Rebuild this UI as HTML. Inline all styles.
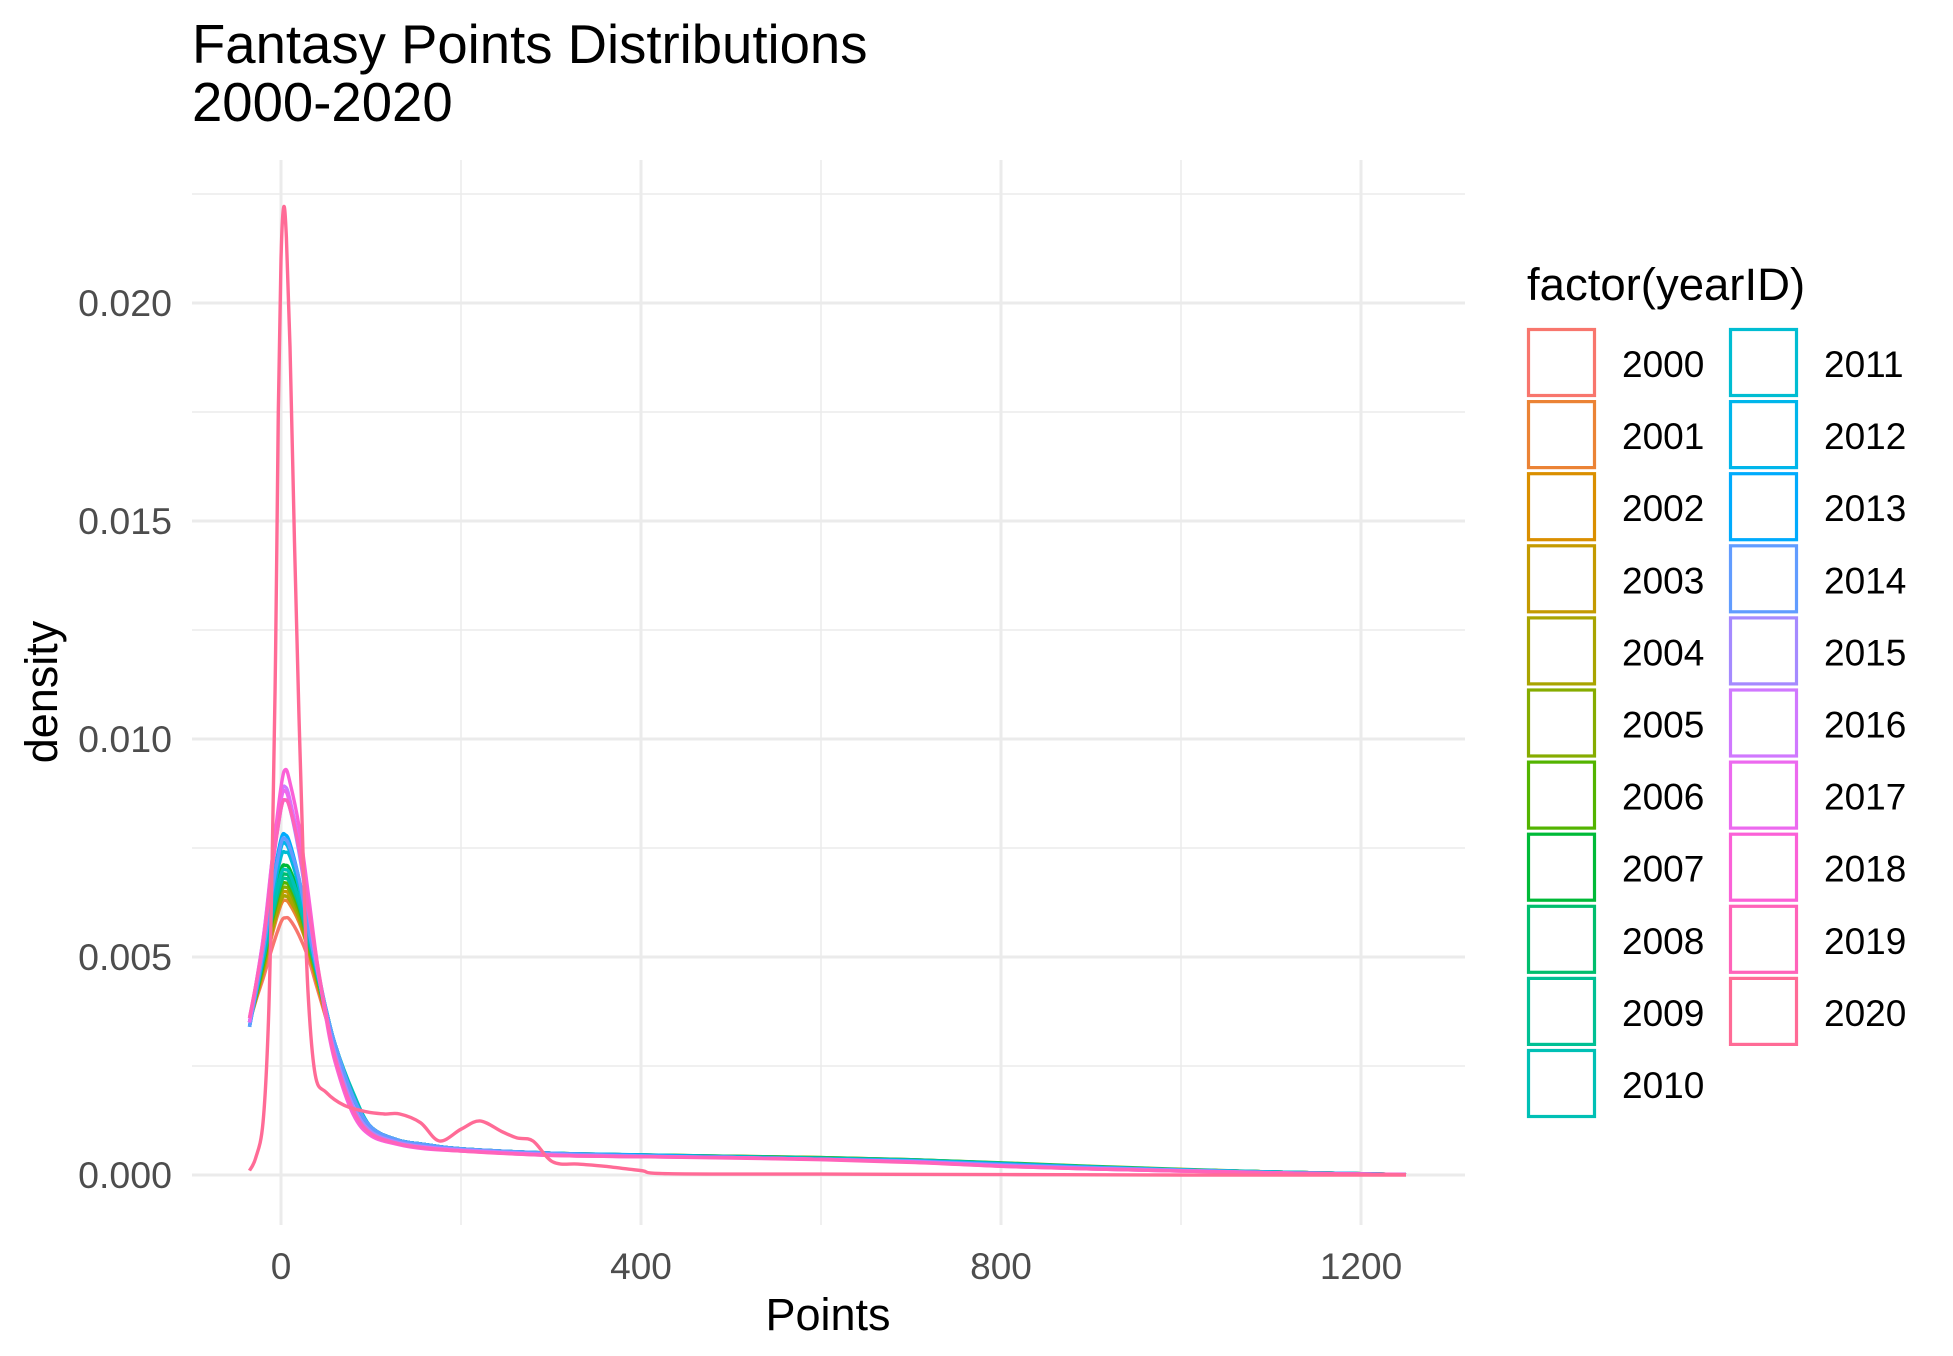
<!DOCTYPE html>
<html><head><meta charset="utf-8"><style>
html,body{margin:0;padding:0;background:#fff;}
svg{display:block;font-family:"Liberation Sans",Arial,sans-serif;}
</style></head><body>
<svg id="chart" width="1953" height="1356" viewBox="0 0 1953 1356" xmlns="http://www.w3.org/2000/svg">
<text x="192" y="63" font-size="54.5" fill="#000">Fantasy Points Distributions</text>
<text x="192" y="121" font-size="54.5" fill="#000">2000-2020</text>
<g id="grid"></g>
<g id="series"></g>
<g id="axes"></g>
<text x="828" y="1330" font-size="45" text-anchor="middle" fill="#000">Points</text>
<text transform="translate(57,692) rotate(-90)" font-size="45" text-anchor="middle" fill="#000">density</text>
<g id="legend">
<text x="1527" y="300" font-size="45.5" fill="#000">factor(yearID)</text>
</g>
</svg>
<script>
const years = [2000,2001,2002,2003,2004,2005,2006,2007,2008,2009,2010,2011,2012,2013,2014,2015,2016,2017,2018,2019,2020];
const xGrid = [-35,-20,-10,0,5,10,20,30,40,50,60,80,100,130,160,200,300,400,500,600,700,800,900,1000,1100,1200,1250];
const d2000 = [3.6,4.5,5.2,5.8,5.9,5.85,5.5,5.0,4.3,3.6,2.9,1.8,1.1,0.8,0.7,0.6,0.5,0.45,0.42,0.38,0.33,0.25,0.18,0.12,0.07,0.03,0.01];
const d2001 = [3.5,4.6,5.5,6.2,6.3,6.2,5.8,5.2,4.4,3.6,2.9,1.8,1.1,0.8,0.7,0.6,0.5,0.45,0.42,0.38,0.34,0.26,0.18,0.12,0.07,0.03,0.01];
const d2002 = [3.5,4.7,5.6,6.3,6.4,6.3,5.9,5.2,4.4,3.7,2.9,1.8,1.1,0.8,0.7,0.6,0.5,0.46,0.42,0.39,0.34,0.26,0.18,0.12,0.07,0.03,0.01];
const d2003 = [3.5,4.7,5.7,6.4,6.5,6.4,5.9,5.3,4.5,3.7,3.0,1.8,1.1,0.8,0.7,0.6,0.5,0.45,0.42,0.38,0.33,0.26,0.18,0.12,0.07,0.03,0.01];
const d2004 = [3.5,4.7,5.6,6.3,6.4,6.3,5.9,5.2,4.5,3.7,2.9,1.8,1.1,0.8,0.7,0.6,0.5,0.46,0.43,0.39,0.34,0.27,0.19,0.12,0.07,0.03,0.01];
const d2005 = [3.5,4.8,5.8,6.5,6.6,6.5,6.0,5.3,4.5,3.7,2.9,1.8,1.1,0.8,0.7,0.6,0.5,0.45,0.43,0.4,0.35,0.27,0.19,0.12,0.07,0.03,0.01];
const d2006 = [3.5,4.8,5.8,6.6,6.7,6.6,6.1,5.4,4.6,3.7,3.0,1.8,1.1,0.8,0.7,0.6,0.5,0.46,0.43,0.4,0.35,0.28,0.2,0.13,0.07,0.03,0.01];
const d2007 = [3.5,5.0,6.1,7.0,7.1,7.0,6.4,5.5,4.6,3.8,3.0,1.8,1.1,0.8,0.7,0.6,0.5,0.45,0.42,0.39,0.34,0.27,0.19,0.12,0.07,0.03,0.01];
const d2008 = [3.5,4.9,6.0,6.8,6.9,6.8,6.2,5.4,4.6,3.7,3.0,1.8,1.1,0.8,0.7,0.6,0.5,0.46,0.43,0.39,0.35,0.27,0.19,0.12,0.07,0.03,0.01];
const d2009 = [3.5,4.9,5.9,6.7,6.8,6.7,6.2,5.4,4.6,3.7,3.0,1.8,1.1,0.8,0.7,0.6,0.5,0.45,0.42,0.39,0.34,0.27,0.19,0.12,0.07,0.03,0.01];
const d2010 = [3.5,4.9,6.0,6.9,7.0,6.9,6.3,5.5,4.6,3.8,3.0,1.9,1.1,0.8,0.7,0.6,0.5,0.46,0.42,0.38,0.34,0.26,0.18,0.12,0.07,0.03,0.01];
const d2011 = [3.4,5.0,6.3,7.3,7.4,7.3,6.6,5.6,4.7,3.8,3.0,1.8,1.1,0.8,0.7,0.6,0.5,0.45,0.41,0.37,0.33,0.26,0.18,0.12,0.07,0.03,0.01];
const d2012 = [3.4,5.1,6.4,7.5,7.6,7.4,6.7,5.7,4.7,3.8,3.0,1.8,1.1,0.8,0.7,0.6,0.5,0.45,0.41,0.37,0.33,0.25,0.18,0.11,0.06,0.03,0.01];
const d2013 = [3.4,5.2,6.6,7.7,7.8,7.6,6.8,5.8,4.8,3.8,3.0,1.8,1.1,0.8,0.7,0.6,0.5,0.46,0.41,0.36,0.32,0.25,0.17,0.11,0.06,0.03,0.01];
const d2014 = [3.4,5.1,6.5,7.6,7.7,7.5,6.8,5.7,4.7,3.8,3.0,1.8,1.1,0.8,0.7,0.6,0.5,0.44,0.4,0.36,0.32,0.24,0.17,0.11,0.06,0.03,0.01];
const d2015 = [3.5,5.3,7.0,8.4,8.6,8.4,7.4,6.1,4.8,3.7,2.8,1.6,1.0,0.75,0.65,0.58,0.47,0.43,0.4,0.36,0.31,0.22,0.15,0.1,0.05,0.02,0.01];
const d2016 = [3.5,5.4,7.2,8.7,8.9,8.6,7.6,6.2,4.8,3.7,2.7,1.5,0.95,0.72,0.63,0.56,0.46,0.43,0.4,0.36,0.3,0.21,0.15,0.1,0.05,0.02,0.01];
const d2017 = [3.5,5.4,7.1,8.6,8.8,8.5,7.5,6.2,4.8,3.7,2.7,1.5,0.95,0.72,0.63,0.56,0.46,0.42,0.4,0.36,0.3,0.21,0.14,0.09,0.05,0.02,0.01];
const d2018 = [3.6,5.3,7.2,8.9,9.3,9.0,8.0,6.5,4.9,3.6,2.6,1.4,0.9,0.7,0.6,0.55,0.45,0.42,0.4,0.36,0.3,0.2,0.14,0.09,0.05,0.02,0.01];
const d2019 = [3.6,5.3,7.0,8.4,8.6,8.4,7.5,6.2,4.9,3.7,2.7,1.5,0.95,0.72,0.62,0.55,0.45,0.42,0.39,0.35,0.29,0.2,0.14,0.09,0.05,0.02,0.01];
const x2020 = [-35,-28,-20,-14,-10,-6,-3,0,3,6,10,15,20,25,30,38,50,70,95,115,132,155,176,200,221,245,262,280,302,330,360,400,430,600,800,1000,1250];
const d2020 = [0.1,0.4,1.2,3.5,7.0,12.0,17.5,21.0,22.2,21.5,19.0,14.5,10.5,7.0,4.2,2.3,1.9,1.6,1.45,1.4,1.4,1.2,0.78,1.05,1.24,1.0,0.85,0.78,0.3,0.25,0.2,0.1,0.03,0.02,0.01,0.0,0.0];
const regular = [d2000,d2001,d2002,d2003,d2004,d2005,d2006,d2007,d2008,d2009,d2010,d2011,d2012,d2013,d2014,d2015,d2016,d2017,d2018,d2019];
const xTicks = [0,400,800,1200];
const xMinor = [200,600,1000];
const yTicks = [0,0.005,0.010,0.015,0.020];
const yTickLabels = ["0.000","0.005","0.010","0.015","0.020"];
const yMinor = [0.0025,0.0075,0.0125,0.0175,0.0225];

const NS="http://www.w3.org/2000/svg";
const PL=192,PR=1465,PT=160,PB=1225;
function xs(v){return 281+v*0.9;}
function ys(v){return 1175-v*43600;}
function mk(tag,attrs,parent){const e=document.createElementNS(NS,tag);for(const k in attrs)e.setAttribute(k,attrs[k]);parent.appendChild(e);return e;}
function hcl(h){
  const L=65,C=100,r=h*Math.PI/180,u=C*Math.cos(r),v=C*Math.sin(r);
  const un=0.19783,vn=0.46832;
  const Y=Math.pow((L+16)/116,3);
  const up=u/(13*L)+un,vp=v/(13*L)+vn;
  const X=Y*9*up/(4*vp),Z=Y*(12-3*up-20*vp)/(4*vp);
  let R=3.2404542*X-1.5371385*Y-0.4985314*Z,G=-0.9692660*X+1.8760108*Y+0.0415560*Z,B=0.0556434*X-0.2040259*Y+1.0572252*Z;
  const g=c=>{c=Math.max(0,Math.min(1,c));return Math.round(255*(c<=0.0031308?12.92*c:1.055*Math.pow(c,1/2.4)-0.055));};
  return `rgb(${g(R)},${g(G)},${g(B)})`;
}
const colors=years.map((y,i)=>hcl(15+360*i/21));

const grid=document.getElementById('grid');
yMinor.forEach(v=>{const e=mk('line',{x1:PL,x2:PR,y1:ys(v),y2:ys(v),stroke:'#ebebeb','stroke-width':1.5},grid);

});
xMinor.forEach(v=>{const e=mk('line',{x1:xs(v),x2:xs(v),y1:PT,y2:PB,stroke:'#ebebeb','stroke-width':1.5},grid);

});
yTicks.forEach(v=>{const e=mk('line',{x1:PL,x2:PR,y1:ys(v),y2:ys(v),stroke:'#ebebeb','stroke-width':3},grid);

});
xTicks.forEach(v=>{const e=mk('line',{x1:xs(v),x2:xs(v),y1:PT,y2:PB,stroke:'#ebebeb','stroke-width':3},grid);

});

const axes=document.getElementById('axes');
xTicks.forEach(v=>{const t=mk('text',{x:xs(v),y:1279,'font-size':37,'text-anchor':'middle',fill:'#4d4d4d'},axes);t.textContent=v;

});
yTicks.forEach((v,i)=>{const t=mk('text',{x:172,y:ys(v)+13,'font-size':37.5,'text-anchor':'end',fill:'#4d4d4d'},axes);t.textContent=yTickLabels[i];

});

function pathFrom(xa,da){
  const p=xa.map((x,i)=>[xs(x),ys(da[i]/1000)]);
  let d=`M${p[0][0]},${p[0][1]}`;
  for(let i=0;i<p.length-1;i++){
    const p0=p[i-1]||p[i],p1=p[i],p2=p[i+1],p3=p[i+2]||p2;
    const c1=[p1[0]+(p2[0]-p0[0])/6,p1[1]+(p2[1]-p0[1])/6],c2=[p2[0]-(p3[0]-p1[0])/6,p2[1]-(p3[1]-p1[1])/6];
    d+=`C${c1[0].toFixed(1)},${c1[1].toFixed(1)} ${c2[0].toFixed(1)},${c2[1].toFixed(1)} ${p2[0].toFixed(1)},${p2[1].toFixed(1)}`;
  }
  return d;
}
const series=document.getElementById('series');
regular.forEach((da,i)=>{const e=mk('path',{d:pathFrom(xGrid,da),fill:'none',stroke:colors[i],'stroke-width':3.4,'stroke-linejoin':'round'},series);

});
{const e=mk('path',{d:pathFrom(x2020,d2020),fill:'none',stroke:colors[20],'stroke-width':3.4,'stroke-linejoin':'round'},series);

}

const legend=document.getElementById('legend');
years.forEach((y,i)=>{
  const col=i<11?0:1,row=i<11?i:i-11;
  const kx=col?1729:1527,ky=328+row*72.1;
  const g=mk('g',{},legend);
  
  
  mk('rect',{x:kx+1.5,y:ky+1.5,width:66,height:66,fill:'#fff',stroke:colors[i],'stroke-width':3.2},g);
  const t=mk('text',{x:kx+95,y:ky+49,'font-size':37,fill:'#000'},g);t.textContent=y;
});
</script>
</body></html>
